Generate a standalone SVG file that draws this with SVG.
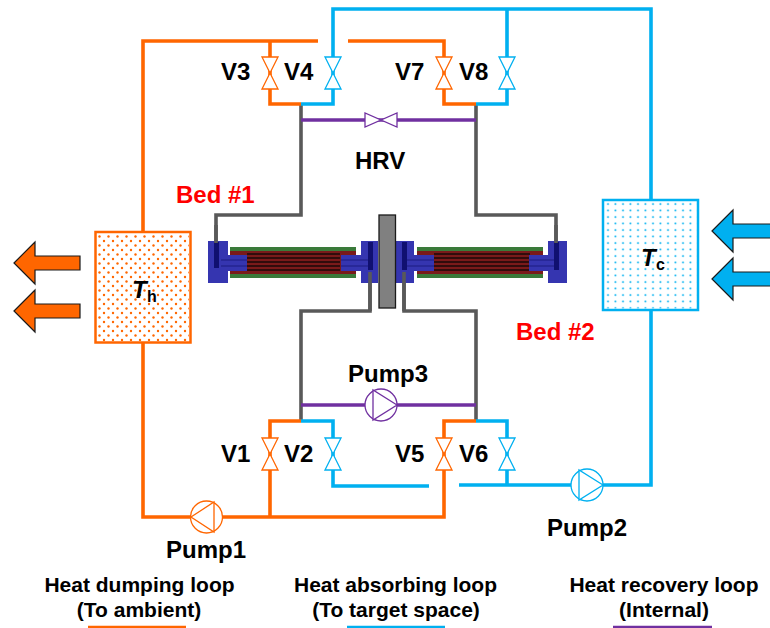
<svg xmlns="http://www.w3.org/2000/svg" width="770" height="628" viewBox="0 0 770 628">
<style>
text{font-family:"Liberation Sans",Arial,sans-serif;font-weight:700;fill:#000}
.lb{font-size:24px}
.bed{font-size:24px;fill:#f00}
.lg{font-size:21px;text-anchor:middle}
.pipe{fill:none;stroke-width:3.6;stroke-linejoin:miter}
.o{stroke:#ff6600}.b{stroke:#00b0f0}.p{stroke:#7030a0}.g{stroke:#595959}
.v{fill:#fff;stroke-width:1.3}
.vo{stroke:#ff6600}.vb{stroke:#00b0f0}.vp{stroke:#7030a0}
</style>
<defs>
<pattern id="dotO" width="9" height="9" patternUnits="userSpaceOnUse" x="97" y="234">
<circle cx="2.500" cy="2.500" r="1.200" fill="#ff6600"/><circle cx="7" cy="7" r="1.200" fill="#ff6600"/>
</pattern>
<pattern id="dotB" width="7.500" height="6.500" patternUnits="userSpaceOnUse" x="604" y="201">
<circle cx="4" cy="3" r="1" fill="#00b0f0"/>
</pattern>
<g id="vvalve"><path d="M-8 -16H8L-8 16H8Z"/></g>
</defs>

<g id="connectors">
<path class="pipe g" d="M301 104V215H216V243"/>
<path class="pipe g" d="M476 104V215H556V243"/>
<path class="pipe g" d="M370 272V311H301V421"/>
<path class="pipe g" d="M404 272V311H476V421"/>
<path class="pipe p" d="M301 120H476"/>
<path class="pipe p" d="M301 405H476"/>
<path class="pipe o" d="M318 41H143V232"/>
<path class="pipe o" d="M143 343V517H444V421H476"/>
<path class="pipe o" d="M270 41V104H301"/>
<path class="pipe o" d="M348 41H444V104H476"/>
<path class="pipe o" d="M270 517V421H301"/>
<path class="pipe b" d="M301 104H333V9H651V200"/>
<path class="pipe b" d="M507 9V104H476"/>
<path class="pipe b" d="M651 310V485H459"/>
<path class="pipe b" d="M507 485V421H476"/>
<path class="pipe b" d="M301 421H333V486H429"/>
</g>

<g id="bed1">
<rect x="230" y="247" width="126" height="31" fill="#3a7a3a"/>
<rect x="230" y="251" width="126" height="23" fill="#7a1a1a"/>
<path d="M247 254H340M247 258H340M247 262H340M247 266H340M247 270H340" stroke="#1a0808" stroke-width="1.500"/>
<path d="M208 241H228V255H247V271H228V283H208Z" fill="#3535b0"/>
<path d="M361 241H378V283H361V271H341V255H361Z" fill="#3535b0"/>
<path d="M221 260H247M221 266H247M341 260H368M341 266H368" stroke="#1c1c80" stroke-width="1.200"/>
<rect x="214" y="242" width="5" height="26" fill="#101070"/>
<rect x="368" y="242" width="5" height="28" fill="#101070"/>
</g>
<g id="bed2">
<rect x="417" y="247" width="126" height="31" fill="#3a7a3a"/>
<rect x="417" y="251" width="126" height="23" fill="#7a1a1a"/>
<path d="M434 254H530M434 258H530M434 262H530M434 266H530M434 270H530" stroke="#1a0808" stroke-width="1.500"/>
<path d="M396 241H414V255H434V271H414V283H396Z" fill="#3535b0"/>
<path d="M548 241H567V283H548V271H529V255H548Z" fill="#3535b0"/>
<path d="M405 260H434M405 266H434M529 260H556M529 266H556" stroke="#1c1c80" stroke-width="1.200"/>
<rect x="402" y="242" width="5" height="28" fill="#101070"/>
<rect x="554" y="242" width="5" height="28" fill="#101070"/>
</g>
<g id="plate"><rect x="379" y="215" width="16.500" height="93" fill="#808080" stroke="#1a1a1a" stroke-width="1.300"/></g>
<path class="pipe g" d="M370 272V311M404 272V311M216 225V243M556 225V243"/>

<g id="Th"><rect x="95.500" y="232" width="95" height="110.500" fill="#fff" stroke="#ff6600" stroke-width="2.500"/><rect x="97" y="234" width="92" height="107.500" fill="url(#dotO)"/>
<text x="132" y="298" font-size="24" font-style="italic">T</text><text x="147" y="302" font-size="16">h</text></g>
<g id="Tc"><rect x="603" y="200" width="95" height="110" fill="#fff" stroke="#00b0f0" stroke-width="2.500"/><rect x="604.500" y="201.500" width="92" height="107" fill="url(#dotB)"/>
<text x="641" y="266" font-size="24" font-style="italic">T</text><text x="656" y="270" font-size="16">c</text></g>

<g id="heat-arrows" stroke="#1a1a1a" stroke-width="1.200">
<path fill="#ff6600" d="M14 263L35 242V256H80V270H35V284Z"/>
<path fill="#ff6600" d="M14 311L35 290V304H80V318H35V332Z"/>
<path fill="#00b0f0" d="M712 231L733 210V224H771V238H733V252Z"/>
<path fill="#00b0f0" d="M712 279L733 258V272H771V286H733V300Z"/>
</g>

<g id="V3"><use href="#vvalve" class="v vo" x="270" y="73"/><text class="lb" x="221" y="80">V3</text></g>
<g id="V4"><use href="#vvalve" class="v vb" x="333" y="73"/><text class="lb" x="284" y="80">V4</text></g>
<g id="V7"><use href="#vvalve" class="v vo" x="444" y="73"/><text class="lb" x="395" y="80">V7</text></g>
<g id="V8"><use href="#vvalve" class="v vb" x="507" y="73"/><text class="lb" x="459" y="80">V8</text></g>
<g id="V1"><use href="#vvalve" class="v vo" x="270" y="454"/><text class="lb" x="221" y="462">V1</text></g>
<g id="V2"><use href="#vvalve" class="v vb" x="333" y="454"/><text class="lb" x="284" y="462">V2</text></g>
<g id="V5"><use href="#vvalve" class="v vo" x="444" y="454"/><text class="lb" x="395" y="462">V5</text></g>
<g id="V6"><use href="#vvalve" class="v vb" x="507" y="454"/><text class="lb" x="459" y="462">V6</text></g>
<g id="HRV"><path class="v vp" d="M365 113V127L397 113V127Z"/><text class="lb" x="355" y="169">HRV</text></g>

<g id="Pump1"><circle class="v vo" cx="206.500" cy="517" r="16"/><path class="v vo" d="M191 517L214 502V532Z" fill="none"/><text class="lb" x="166" y="558">Pump1</text></g>
<g id="Pump2"><circle class="v vb" cx="587" cy="485" r="16"/><path class="v vb" d="M603 485L579 470V500Z" fill="none"/><text class="lb" x="547" y="536">Pump2</text></g>
<g id="Pump3"><circle class="v vp" cx="381" cy="405" r="16"/><path class="v vp" d="M397 405L373 390V420Z" fill="none"/><text class="lb" x="348" y="382">Pump3</text></g>

<text class="bed" x="176" y="203">Bed #1</text>
<text class="bed" x="516" y="340">Bed #2</text>

<g id="legend-dump"><text class="lg" x="139.500" y="592">Heat dumping loop</text><text class="lg" x="139" y="617">(To ambient)</text><path class="pipe o" d="M88 627.500H186"/></g>
<g id="legend-absorb"><text class="lg" x="395.500" y="592">Heat absorbing loop</text><text class="lg" x="396" y="617">(To target space)</text><path class="pipe b" d="M347 627.500H445"/></g>
<g id="legend-recovery"><text class="lg" x="664" y="592">Heat recovery loop</text><text class="lg" x="664" y="617">(Internal)</text><path class="pipe p" d="M613 627.500H712"/></g>
</svg>
